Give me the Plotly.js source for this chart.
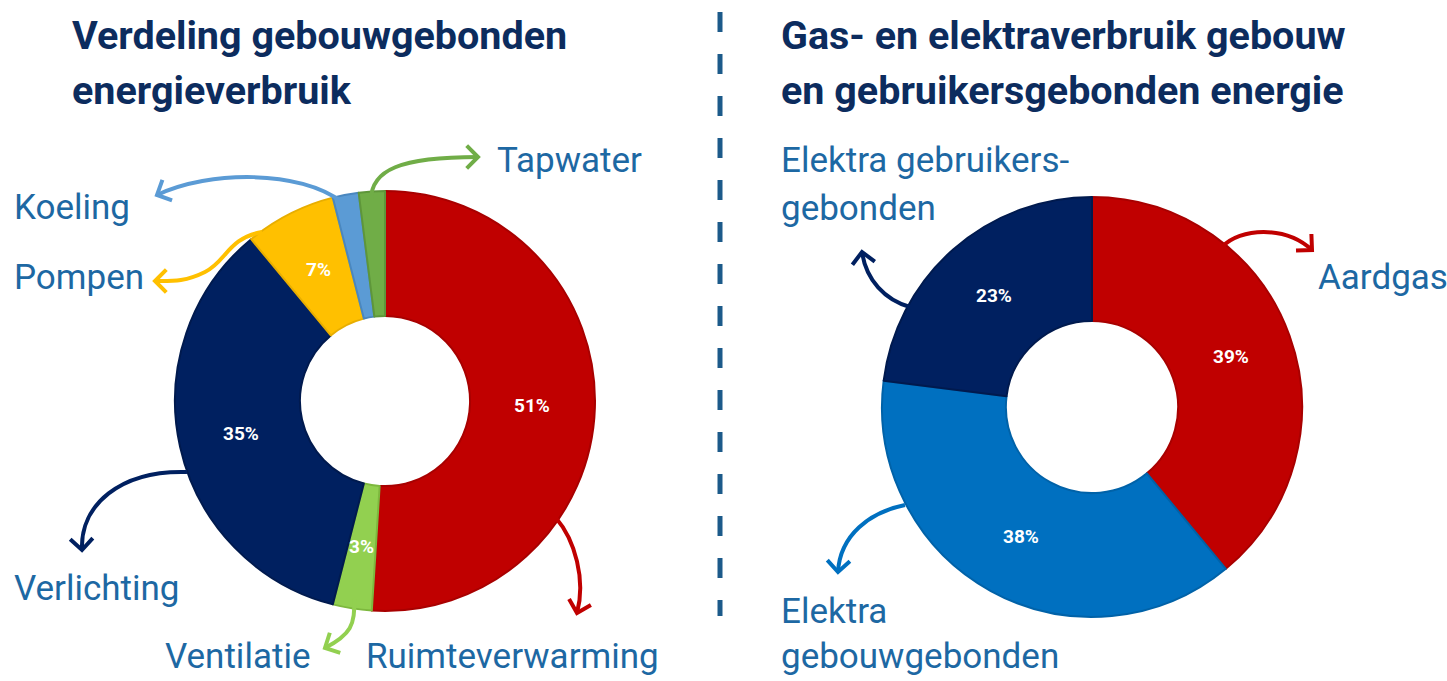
<!DOCTYPE html>
<html>
<head>
<meta charset="utf-8">
<script src="https://cdn.plot.ly/plotly-3.0.1.min.js"></script>
<style>html,body{margin:0;padding:0;background:#fff;}#chart{width:1447px;height:681px;}</style>
</head>
<body>
<div id="chart"></div>
<script>
// ---------- DATA ----------
const leftLabels = ['Ruimteverwarming', 'Ventilatie', 'Verlichting', 'Pompen', 'Koeling', 'Tapwater'];
const leftValues = [51, 3, 35, 7, 2, 2];
const rightLabels = ['Aardgas', 'Elektra gebouwgebonden', 'Elektra gebruikersgebonden'];
const rightValues = [39, 38, 23];
const leftTitle = ['Verdeling gebouwgebonden', 'energieverbruik'];
const rightTitle = ['Gas- en elektraverbruik gebouw', 'en gebruikersgebonden energie'];

// ---------- STYLE ----------
const W = 1447, H = 681;
const leftColors = ['#C00000', '#92D050', '#002060', '#FFC000', '#5B9BD5', '#70AD47'];
const leftEdge = ['#A80000', '#7DB83E', '#001A4E', '#E8AE00', '#4A87BF', '#5E963A'];
const rightColors = ['#C00000', '#0070C0', '#002060'];
const rightEdge = ['#A80000', '#0062A8', '#001A4E'];
const titleColor = '#0C2C5E';
const labelColor = '#1D68A3';
const FONT = 'Roboto, "Open Sans", sans-serif';

const L = {cx: 385, cy: 401, r: 210, hole: 0.405};
const R = {cx: 1092, cy: 407, r: 210, hole: 0.41};

function dom(p) {
  return {
    x: [(p.cx - p.r) / W, (p.cx + p.r) / W],
    y: [(H - p.cy - p.r) / H, (H - p.cy + p.r) / H]
  };
}

const traces = [
  {type: 'pie', labels: leftLabels, values: leftValues, sort: false, direction: 'clockwise',
   hole: L.hole, domain: dom(L), textinfo: 'none', hoverinfo: 'label+percent',
   marker: {colors: leftColors, line: {color: leftEdge, width: 2}}, showlegend: false},
  {type: 'pie', labels: rightLabels, values: rightValues, sort: false, direction: 'clockwise',
   hole: R.hole, domain: dom(R), textinfo: 'none', hoverinfo: 'label+percent',
   marker: {colors: rightColors, line: {color: rightEdge, width: 2}}, showlegend: false}
];

const annotations = [];
function pctLabels(values, p, minShow) {
  const tot = values.reduce((a, b) => a + b, 0);
  let cum = 0;
  values.forEach(v => {
    const mid = (cum + v / 2) / tot * 2 * Math.PI;
    cum += v;
    if (v < minShow) return;
    const rr = (p.r * p.hole + p.r) / 2;
    annotations.push({
      xref: 'x', yref: 'y', x: p.cx + rr * Math.sin(mid), y: p.cy - rr * Math.cos(mid),
      text: '<b>' + Math.round(v / tot * 100) + '%</b>', showarrow: false,
      font: {family: FONT, size: 19, color: '#FFFFFF'}, xanchor: 'center', yanchor: 'middle'
    });
  });
}
pctLabels(leftValues, L, 3);
pctLabels(rightValues, R, 3);

function txt(t, x, y, size, color, bold) {
  annotations.push({xref: 'x', yref: 'y', x: x, y: y, text: bold ? '<b>' + t + '</b>' : t,
    showarrow: false, xanchor: 'left', yanchor: 'middle',
    font: {family: FONT, size: size, color: color}});
}
const TS = 39.5;
txt(leftTitle[0], 70, 35, TS, titleColor, true);
txt(leftTitle[1], 70, 90, TS, titleColor, true);
txt(rightTitle[0], 779, 35, TS, titleColor, true);
txt(rightTitle[1], 779, 90, TS, titleColor, true);

const LS = 35;
txt(leftLabels[5], 495, 160, LS, labelColor);
txt(leftLabels[4], 12, 207, LS, labelColor);
txt(leftLabels[3], 12, 277, LS, labelColor);
txt(leftLabels[2], 12, 588, LS, labelColor);
txt(leftLabels[1], 163, 656, LS, labelColor);
txt(leftLabels[0], 364, 656, LS, labelColor);
txt('Elektra gebruikers-', 779, 160, LS, labelColor);
txt('gebonden', 779, 208, LS, labelColor);
txt(rightLabels[0], 1316, 277, LS, labelColor);
txt('Elektra', 779, 611, LS, labelColor);
txt('gebouwgebonden', 779, 656, LS, labelColor);

// ---------- curved arrows (decoration) ----------
const arrows = [
  {c: leftColors[5], p: [[371, 200], [371, 170], [400, 157], [478, 157]]},
  {c: leftColors[4], p: [[342, 202], [300, 170], [210, 170], [157, 195]]},
  {c: leftColors[3], p: [[262, 232], [228, 238], [226, 262], [205, 272], [185, 282], [172, 281], [155, 281]]},
  {c: leftColors[2], p: [[187, 472], [120, 470], [80, 505], [82, 550]]},
  {c: leftColors[1], p: [[354, 598], [356, 625], [350, 635], [325, 648]]},
  {c: leftColors[0], p: [[556, 518], [575, 540], [586, 580], [577, 613]]},
  {c: rightColors[0], p: [[1222, 247], [1240, 228], [1285, 225], [1312, 250]]},
  {c: rightColors[2], p: [[910, 307], [885, 300], [866, 280], [862, 252]]},
  {c: rightColors[1], p: [[905, 505], [870, 512], [840, 535], [838, 572]]}
];
const shapes = [];
arrows.forEach(a => {
  const p = a.p;
  let d = 'M ' + p[0][0] + ' ' + p[0][1];
  for (let i = 1; i < p.length; i += 3) {
    d += ' C ' + p[i][0] + ' ' + p[i][1] + ', ' + p[i + 1][0] + ' ' + p[i + 1][1] + ', ' + p[i + 2][0] + ' ' + p[i + 2][1];
  }
  shapes.push({type: 'path', xref: 'x', yref: 'y', path: d, layer: 'above',
    line: {color: a.c, width: 4}});
  const tip = p[p.length - 1], prev = p[p.length - 2];
  let dx = tip[0] - prev[0], dy = tip[1] - prev[1];
  const n = Math.hypot(dx, dy); dx /= n; dy /= n;
  const len = 16, ang = 45 * Math.PI / 180;
  const arm = s => [tip[0] - len * (dx * Math.cos(s * ang) - dy * Math.sin(s * ang)),
                    tip[1] - len * (dx * Math.sin(s * ang) + dy * Math.cos(s * ang))];
  const a1 = arm(1), a2 = arm(-1);
  shapes.push({type: 'path', xref: 'x', yref: 'y', layer: 'above',
    path: 'M ' + a1[0] + ' ' + a1[1] + ' L ' + tip[0] + ' ' + tip[1] + ' L ' + a2[0] + ' ' + a2[1],
    line: {color: a.c, width: 4}});
});

// dashed divider
shapes.push({type: 'line', xref: 'x', yref: 'y', x0: 720, x1: 720, y0: 12, y1: 616,
  line: {color: '#1C5A8A', width: 5, dash: '20px,22px'}});

const layout = {
  width: W, height: H,
  margin: {l: 0, r: 0, t: 0, b: 0},
  paper_bgcolor: '#FFFFFF', plot_bgcolor: 'rgba(0,0,0,0)',
  xaxis: {range: [0, W], visible: false, fixedrange: true, domain: [0, 1]},
  yaxis: {range: [H, 0], visible: false, fixedrange: true, domain: [0, 1]},
  showlegend: false,
  annotations: annotations,
  shapes: shapes
};

Plotly.newPlot('chart', traces, layout, {displayModeBar: false, staticPlot: true});
</script>
</body>
</html>
